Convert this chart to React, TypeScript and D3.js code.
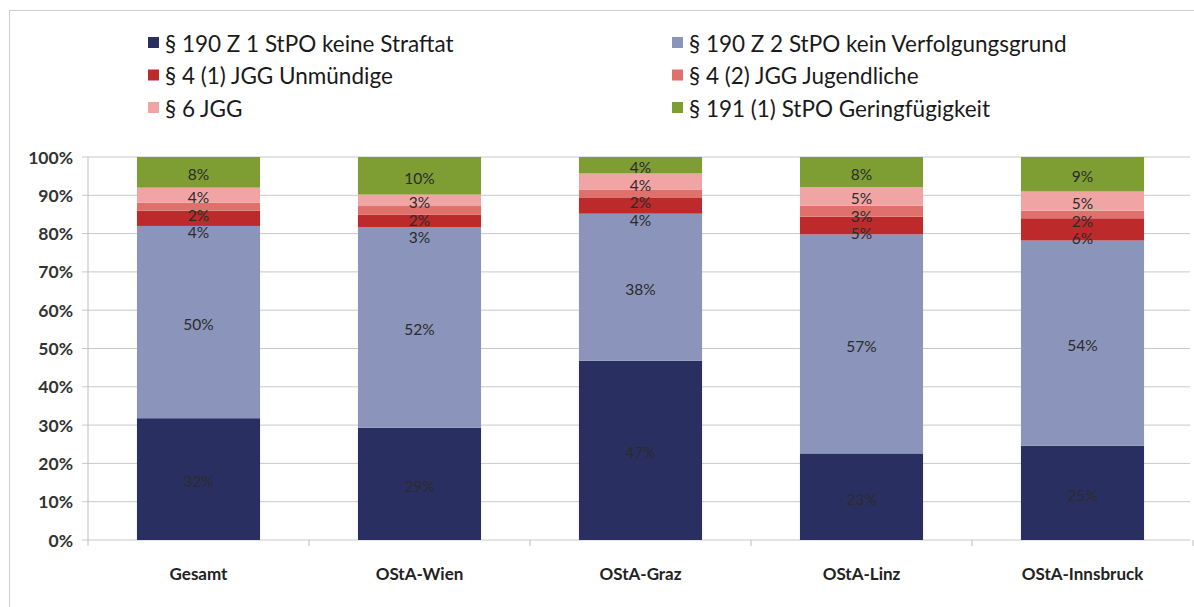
import React from "react";
import * as d3 from "d3";

const categories = ["Gesamt", "OStA-Wien", "OStA-Graz", "OStA-Linz", "OStA-Innsbruck"];
const seriesNames = [
  "§ 190 Z 1 StPO keine Straftat",
  "§ 190 Z 2 StPO kein Verfolgungsgrund",
  "§ 4 (1) JGG Unmündige",
  "§ 4 (2) JGG Jugendliche",
  "§ 6 JGG",
  "§ 191 (1) StPO Geringfügigkeit",
];
const seriesColors = ["#2a2f62", "#8b94ba", "#bd2a2c", "#e0706b", "#f0a5a4", "#7e9d33"];
const keineStraftat = [31.8, 29.3, 46.8, 22.6, 24.6];
const keinVerfolgungsgrund = [50.2, 52.4, 38.4, 57.2, 53.6];
const unmuendige = [4.0, 3.2, 4.1, 4.6, 5.8];
const jugendliche = [2.1, 2.3, 2.1, 2.9, 2.0];
const jgg6 = [3.9, 3.0, 4.3, 4.8, 5.0];
const geringfuegigkeit = [8.0, 9.8, 4.3, 7.9, 9.0];
const seriesValues = [keineStraftat, keinVerfolgungsgrund, unmuendige, jugendliche, jgg6, geringfuegigkeit];
const yTicks = [0, 10, 20, 30, 40, 50, 60, 70, 80, 90, 100];

const W = 1194;
const H = 607;
const FONT = "Lato, 'Open Sans', sans-serif";

export default function App() {
  const x = d3.scaleBand<string>().domain(categories).range([88, 1193]).paddingInner(0.443).paddingOuter(0.2215);
  const y = d3.scaleLinear().domain([0, 100]).range([540, 157]);

  const rows = categories.map((c, i) => {
    const r: any = { cat: c };
    seriesNames.forEach((s, j) => (r[s] = seriesValues[j][i]));
    return r;
  });
  const stacked = d3.stack<any>().keys(seriesNames)(rows);

  // label positions: centred, pushed apart from the top down to avoid overlap
  const labelY: number[][] = stacked.map(() => []);
  categories.forEach((_, i) => {
    let prev = -Infinity;
    for (let j = stacked.length - 1; j >= 0; j--) {
      const d = stacked[j][i];
      const c = y((d[0] + d[1]) / 2) + 2;
      const p = Math.max(c, prev + 17.5);
      labelY[j][i] = p;
      prev = p;
    }
  });

  const legendPos = seriesNames.map((_, i) => ({
    x: i % 2 === 0 ? 148 : 672,
    y: 43 + Math.floor(i / 2) * 32.5,
  }));

  return (
    <svg width={W} height={H} style={{ position: "absolute", left: 0, top: 0, background: "#fff" }}>
      <rect x={9.5} y={10.5} width={W + 10} height={H + 10} fill="#fff" stroke="#cfcfcf" />
      {/* legend */}
      {seriesNames.map((s, i) => (
        <g key={s} transform={`translate(${legendPos[i].x},${legendPos[i].y})`}>
          <rect x={0} y={-6} width={11} height={11} fill={seriesColors[i]} />
          <text x={17} y={0} dominantBaseline="central" fontFamily={FONT} fontSize={22.5} fill="#1a1a1a">
            {s}
          </text>
        </g>
      ))}
      {/* gridlines */}
      {yTicks.map((t) => (
        <g key={t}>
          <line x1={82} x2={1190} y1={y(t)} y2={y(t)} stroke="#c9c9c9" strokeWidth={1} />
          <text x={73} y={y(t)} textAnchor="end" dominantBaseline="central" fontFamily={FONT} fontWeight={700} fontSize={17.5} fill="#333">
            {t}%
          </text>
        </g>
      ))}
      <line x1={88} x2={88} y1={157} y2={546} stroke="#bdbdbd" />
      {categories.map((c, i) => {
        const bx = 88 + x.step() * (i + 1);
        return <line key={c} x1={bx} x2={bx} y1={540} y2={546} stroke="#bdbdbd" />;
      })}
      {/* bars */}
      {stacked.map((layer, j) => (
        <g key={j}>
          {layer.map((d, i) => (
            <rect
              key={i}
              x={x(categories[i])}
              width={x.bandwidth()}
              y={y(d[1])}
              height={y(d[0]) - y(d[1])}
              fill={seriesColors[j]}
            />
          ))}
        </g>
      ))}
      {/* labels */}
      {stacked.map((layer, j) => (
        <g key={"l" + j}>
          {layer.map((d, i) => (
            <text
              key={i}
              x={(x(categories[i]) as number) + x.bandwidth() / 2}
              y={labelY[j][i]}
              textAnchor="middle"
              dominantBaseline="central"
              fontFamily={FONT}
              fontSize={15.5}
              fill="#2b2b2b"
            >
              {Math.round(d[1] - d[0])}%
            </text>
          ))}
        </g>
      ))}
      {categories.map((c) => (
        <text
          key={c}
          x={(x(c) as number) + x.bandwidth() / 2}
          y={573}
          textAnchor="middle"
          dominantBaseline="central"
          fontFamily={FONT}
          fontWeight={700}
          fontSize={17}
          fill="#222"
        >
          {c}
        </text>
      ))}
    </svg>
  );
}
